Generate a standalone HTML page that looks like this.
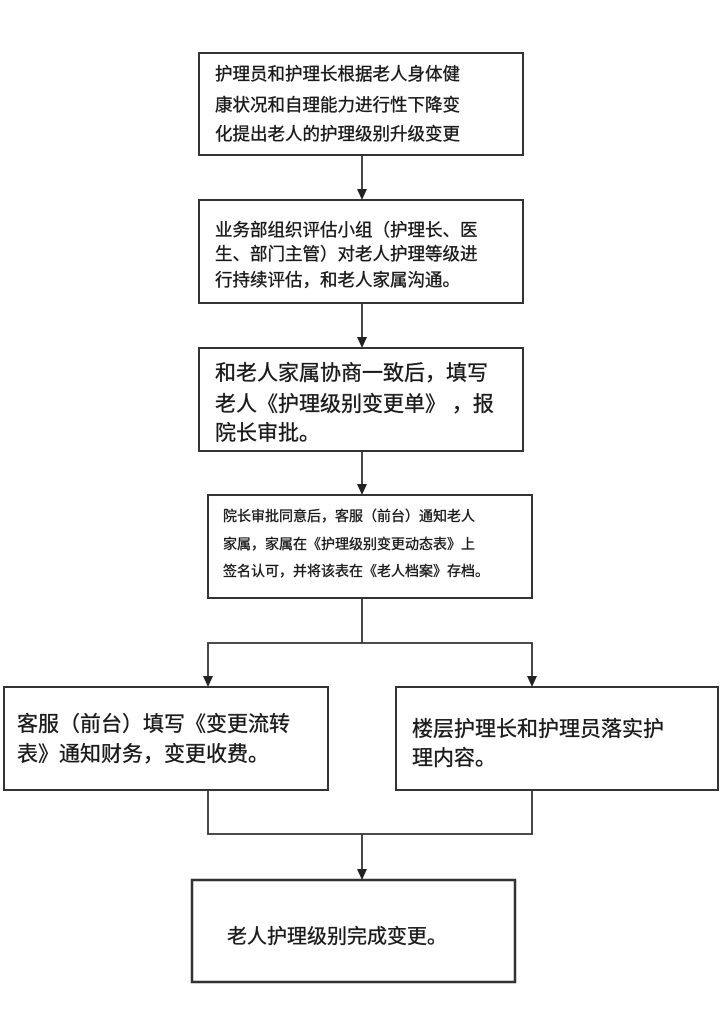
<!DOCTYPE html>
<html><head><meta charset="utf-8"><style>
html,body{margin:0;padding:0;background:#fff;}
svg{display:block;}
text{font-family:"Liberation Sans","Noto Sans CJK SC",sans-serif;fill:#1a1a1a;stroke:#1a1a1a;stroke-width:0.35;}
</style></head><body>
<svg width="720" height="1023" viewBox="0 0 720 1023" xmlns="http://www.w3.org/2000/svg">
<g fill="#fff" stroke="#333" stroke-width="2">
<rect x="199" y="53" width="324" height="102"/>
<rect x="199" y="200" width="324" height="103"/>
<rect x="199" y="348" width="324" height="103"/>
<rect x="208" y="495" width="324" height="103"/>
<rect x="4" y="687" width="324" height="103"/>
<rect x="396" y="687" width="322" height="103"/>
<rect x="192" y="880" width="323" height="102" stroke-width="2.5"/>
</g>
<g fill="none" stroke="#333" stroke-width="1.8">
<line x1="362" y1="155" x2="362" y2="192"/>
<line x1="362" y1="303" x2="362" y2="340"/>
<line x1="362" y1="451" x2="362" y2="487"/>
<polyline points="362,598 362,643"/>
<polyline points="208,679 208,643 532,643 532,679"/>
<polyline points="208,790 208,834 532,834 532,790"/>
<line x1="362" y1="834" x2="362" y2="872"/>
</g>
<g fill="#222">
<polygon points="357,189 367,189 362,200"/>
<polygon points="357,337 367,337 362,348"/>
<polygon points="357,484 367,484 362,495"/>
<polygon points="203,676 213,676 208,687"/>
<polygon points="527,676 537,676 532,687"/>
<polygon points="357,869 367,869 362,880"/>
</g>
<g font-size="17.5">
<text x="215" y="80">护理员和护理长根据老人身体健</text>
<text x="215" y="111">康状况和自理能力进行性下降变</text>
<text x="215" y="140">化提出老人的护理级别升级变更</text>
<text x="215" y="236">业务部组织评估小组（护理长、医</text>
<text x="215" y="260">生、部门主管）对老人护理等级进</text>
<text x="215" y="286">行持续评估，和老人家属沟通。</text>
</g>
<g font-size="21">
<text x="215" y="380">和老人家属协商一致后，填写</text>
<text x="215" y="411">老人《护理级别变更单》 ，报</text>
<text x="215" y="440">院长审批。</text>
</g>
<g font-size="14">
<text x="223" y="521">院长审批同意后，客服（前台）通知老人</text>
<text x="223" y="549">家属，家属在《护理级别变更动态表》上</text>
<text x="223" y="576">签名认可，并将该表在《老人档案》存档。</text>
</g>
<g font-size="21">
<text x="17" y="731">客服（前台）填写《变更流转</text>
<text x="17" y="761">表》通知财务，变更收费。</text>
<text x="412" y="736">楼层护理长和护理员落实护</text>
<text x="412" y="765">理内容。</text>
</g>
<text x="227" y="943" font-size="20">老人护理级别完成变更。</text>
</svg>
</body></html>
